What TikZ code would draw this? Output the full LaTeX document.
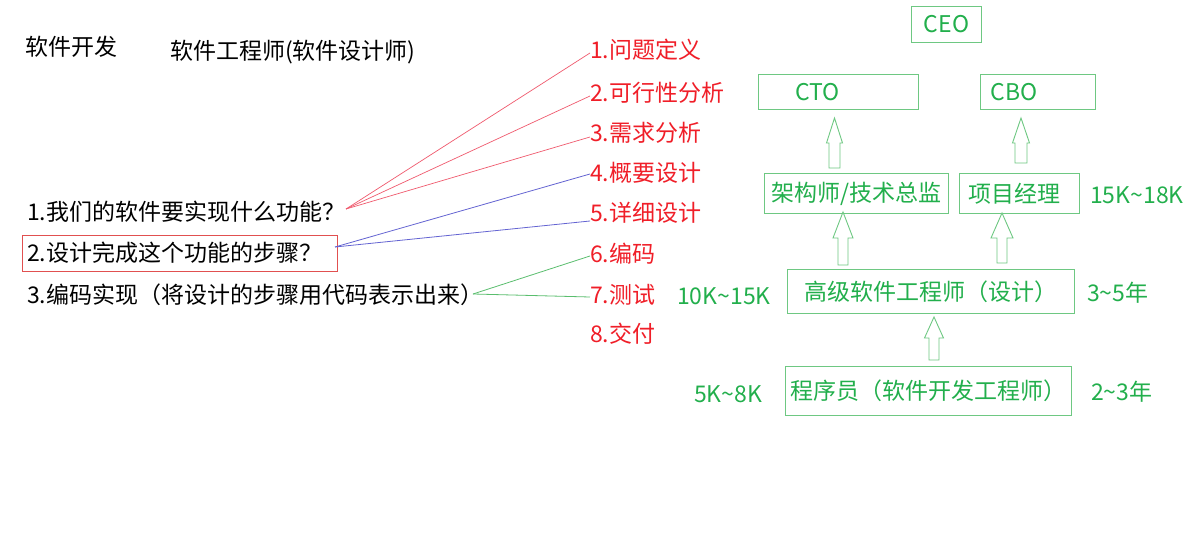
\documentclass[tikz,border=0pt]{standalone}
\usepackage{fontspec}
\setmainfont{Noto Sans CJK SC}
\definecolor{txtred}{RGB}{240,30,40}
\definecolor{linered}{RGB}{240,90,110}
\definecolor{lineblue}{RGB}{100,100,210}
\definecolor{linegreen}{RGB}{90,190,110}
\definecolor{txtgreen}{RGB}{34,175,76}
\definecolor{boxgreen}{RGB}{110,200,130}
\definecolor{boxred}{RGB}{225,80,80}
\tikzset{
  txt/.style={inner sep=0pt, anchor=west},
  rtxt/.style={txt, text=txtred},
  gtxt/.style={txt, text=txtgreen},
  gbox/.style={draw=boxgreen, line width=1pt, text=txtgreen, inner ysep=0pt, anchor=north west},
  redline/.style={draw=linered, line width=0.7pt},
  blueline/.style={draw=lineblue, line width=0.8pt},
  greenline/.style={draw=linegreen, line width=0.8pt},
  harrow/.style={draw=boxgreen, line width=0.9pt, fill=white, line join=miter}
}
% hollow up arrow: cx, bottom, headbase, tip, shaft half, head half
\newcommand\hollowup[6]{%
  \draw[harrow] (#1-#5,#2) -- (#1-#5,#3) -- (#1-#6,#3) -- (#1,#4) -- (#1+#6,#3) -- (#1+#5,#3) -- (#1+#5,#2) -- cycle;}
\begin{document}
\begin{tikzpicture}[x=1pt,y=-1pt,font=\fontsize{23}{28}\selectfont]
\useasboundingbox[fill=white] (0,0) rectangle (1195,537);

% left texts
\node[txt] (kf) at (25,47) {软件开发};
\node[txt] (title) at (170,52) {软件工程师(软件设计师)};
\node[txt] (q1) at (27,212) {1.我们的软件要实现什么功能？};
\node[draw=boxred, line width=0.9pt, minimum width=315pt, minimum height=36pt, anchor=north west, inner sep=0pt] (q2box) at (22,235) {};
\node[txt] (q2) at (27,253) {2.设计完成这个功能的步骤？};
\node[txt] (q3) at (27,295) {3.编码实现（将设计的步骤用代码表示出来）};

% red steps
\node[rtxt] (l1) at (590,50) {1.问题定义};
\node[rtxt] (l2) at (590,93) {2.可行性分析};
\node[rtxt] (l3) at (590,133) {3.需求分析};
\node[rtxt] (l4) at (590,173) {4.概要设计};
\node[rtxt] (l5) at (590,213) {5.详细设计};
\node[rtxt] (l6) at (590,254) {6.编码};
\node[rtxt] (l7) at (590,295) {7.测试};
\node[rtxt] (l8) at (590,334) {8.交付};

% connectors
\coordinate (p1) at (346,209);
\coordinate (p2) at (335,247);
\coordinate (p3) at (473,294);
\draw[redline] (p1) -- ([yshift=-3pt]l1.west);
\draw[redline] (p1) -- ([yshift=-3pt]l2.west);
\draw[redline] (p1) -- ([yshift=-4pt]l3.west);
\draw[blueline] (p2) -- ([yshift=-1pt]l4.west);
\draw[blueline] (p2) -- ([yshift=-8pt]l5.west);
\draw[greenline] (p3) -- ([yshift=-2pt]l6.west);
\draw[greenline] (p3) -- ([yshift=-2pt]l7.west);

% org chart
\node[gbox, minimum width=70pt, minimum height=36pt] (ceo) at (911,6) {CEO};
\node[gbox, text width=86pt, inner xsep=37pt, align=left, minimum height=35pt] (cto) at (758,74) {CTO};
\node[gbox, text width=95pt, inner xsep=10pt, align=left, minimum height=35pt] (cbo) at (980,74) {CBO};
\node[gbox, minimum width=184pt, minimum height=40pt, inner xsep=2pt] (jg) at (764,173) {架构师/技术总监};
\node[gbox, text width=102pt, inner xsep=9pt, align=left, minimum height=40pt] (xm) at (959,173) {项目经理};
\node[gbox, minimum width=287pt, minimum height=44pt] (gj) at (787,269) {高级软件工程师（设计）};
\node[gbox, minimum width=286pt, minimum height=49pt] (cx) at (785,366) {程序员（软件开发工程师）};

\node[gtxt] (s1) at (1090,195) {15K\textasciitilde18K};
\node[gtxt] (s2) at (677,296) {10K\textasciitilde15K};
\node[gtxt] (s3) at (1087,293) {3\textasciitilde5年};
\node[gtxt] (s4) at (694,394) {5K\textasciitilde8K};
\node[gtxt] (s5) at (1091,392) {2\textasciitilde3年};

\hollowup{834.5}{168}{143}{118}{5.5}{8}
\hollowup{1021}{163}{143}{118}{6}{8.5}
\hollowup{843}{265}{238}{212}{5}{10}
\hollowup{1002}{263}{238}{213}{5}{11}
\hollowup{934}{360}{338}{317}{5}{9.5}
\end{tikzpicture}
\end{document}
